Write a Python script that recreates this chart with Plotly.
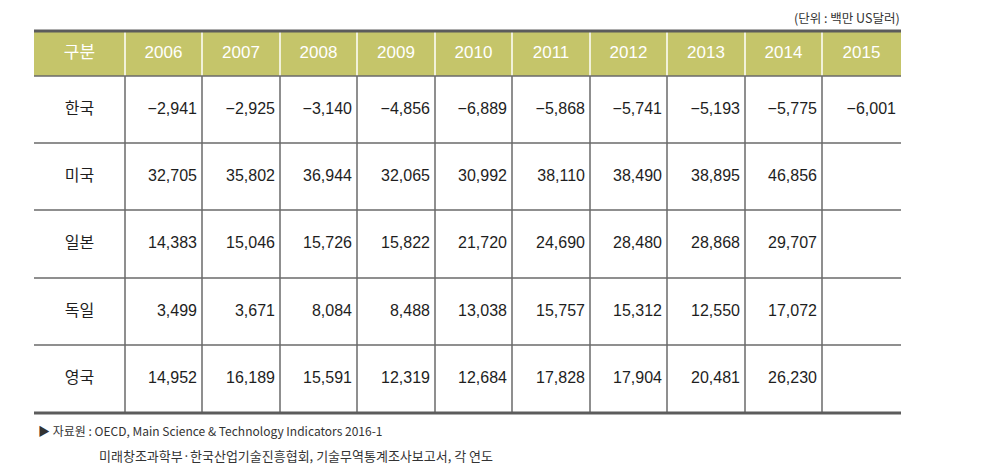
import plotly.graph_objects as go

# Table content
years = ["2006", "2007", "2008", "2009", "2010", "2011", "2012", "2013", "2014", "2015"]
countries = ["한국", "미국", "일본", "독일", "영국"]
korea = [-2941, -2925, -3140, -4856, -6889, -5868, -5741, -5193, -5775, -6001]
usa = [32705, 35802, 36944, 32065, 30992, 38110, 38490, 38895, 46856, None]
japan = [14383, 15046, 15726, 15822, 21720, 24690, 28480, 28868, 29707, None]
germany = [3499, 3671, 8084, 8488, 13038, 15757, 15312, 12550, 17072, None]
uk = [14952, 16189, 15591, 12319, 12684, 17828, 17904, 20481, 26230, None]
rows = [korea, usa, japan, germany, uk]

header_label = "구분"
unit_text = "(단위 : 백만 US달러)"
source_lines = [
    "▶ 자료원 : OECD, Main Science & Technology Indicators 2016-1",
    "미래창조과학부·한국산업기술진흥협회, 기술무역통계조사보고서, 각 연도",
]

# Layout geometry in page pixels; the html body has an 8px margin
W, H = 1007, 475
PAD = 8
col_edges = [34, 125, 202, 280, 357, 435, 512, 590, 667, 745, 822, 901]
row_edges = [31, 76, 143, 210, 278, 345, 413]

HEADER_BG = "#C5C56A"
LINE = "#6a6a6a"
BORDER = "#5c5c5c"
TEXT = "#1e1e1e"
KR_FONT = "Noto Sans CJK KR"
NUM_FONT = "Liberation Sans, Arial"

fig = go.Figure()

shapes = []
# header background
shapes.append(dict(type="rect", x0=col_edges[0], x1=col_edges[-1], y0=row_edges[0], y1=row_edges[1],
                   fillcolor=HEADER_BG, line=dict(width=0), layer="below"))
# header white separators
for x in col_edges[1:-1]:
    shapes.append(dict(type="line", x0=x, x1=x, y0=row_edges[0], y1=row_edges[1],
                       line=dict(color="white", width=1.5)))
# body vertical lines
for x in col_edges[1:-1]:
    shapes.append(dict(type="line", x0=x, x1=x, y0=row_edges[1], y1=row_edges[-1],
                       line=dict(color=LINE, width=1.5)))
# body horizontal lines
for y in row_edges[1:-1]:
    shapes.append(dict(type="line", x0=col_edges[0], x1=col_edges[-1], y0=y, y1=y,
                       line=dict(color=LINE, width=1.5)))
# top and bottom borders
for y in (row_edges[0], row_edges[-1]):
    shapes.append(dict(type="line", x0=col_edges[0], x1=col_edges[-1], y0=y, y1=y,
                       line=dict(color=BORDER, width=3)))

# header text
hx = [(col_edges[i] + col_edges[i + 1]) / 2 for i in range(len(col_edges) - 1)]
hy = (row_edges[0] + row_edges[1]) / 2
fig.add_trace(go.Scatter(x=hx[:1], y=[hy], mode="text", text=[header_label],
                         textfont=dict(family=KR_FONT, size=17, color="white"),
                         textposition="middle center", hoverinfo="skip"))
fig.add_trace(go.Scatter(x=hx[1:], y=[hy] * len(years), mode="text", text=years,
                         textfont=dict(family="Liberation Sans, Arial", size=17, color="white"),
                         textposition="middle center", hoverinfo="skip"))

# row labels
ry = [(row_edges[i + 1] + row_edges[i + 2]) / 2 for i in range(len(countries))]
fig.add_trace(go.Scatter(x=[hx[0]] * len(countries), y=ry, mode="text", text=countries,
                         textfont=dict(family=KR_FONT, size=16, color=TEXT),
                         textposition="middle center", hoverinfo="skip"))

# numbers, right aligned in each cell
nx, ny, nt = [], [], []
for r, vals in enumerate(rows):
    for c, v in enumerate(vals):
        if v is None:
            continue
        nx.append(col_edges[c + 2] - 5)
        ny.append(ry[r])
        nt.append(f"{v:,}".replace("-", "−"))
fig.add_trace(go.Scatter(x=nx, y=ny, mode="text", text=nt,
                         textfont=dict(family=NUM_FONT, size=16, color=TEXT),
                         textposition="middle left", hoverinfo="skip"))

annotations = [
    dict(x=col_edges[-1], y=17, text=unit_text, showarrow=False, xanchor="right", yanchor="middle",
         borderpad=0, font=dict(family=KR_FONT, size=12.5, color="#333333")),
    dict(x=36, y=430, text=source_lines[0], showarrow=False, xanchor="left", yanchor="middle",
         font=dict(family=KR_FONT, size=12, color="#333333")),
    dict(x=97, y=455, text=source_lines[1], showarrow=False, xanchor="left", yanchor="middle",
         font=dict(family=KR_FONT, size=13, color="#333333")),
]

fig.update_layout(
    width=W - 2 * PAD, height=H - 2 * PAD,
    margin=dict(l=0, r=0, t=0, b=0),
    paper_bgcolor="white", plot_bgcolor="white",
    showlegend=False,
    xaxis=dict(range=[PAD, W - PAD], visible=False, fixedrange=True),
    yaxis=dict(range=[H - PAD, PAD], visible=False, fixedrange=True),
    shapes=shapes,
    annotations=annotations,
)

fig.write_html("out.html")
